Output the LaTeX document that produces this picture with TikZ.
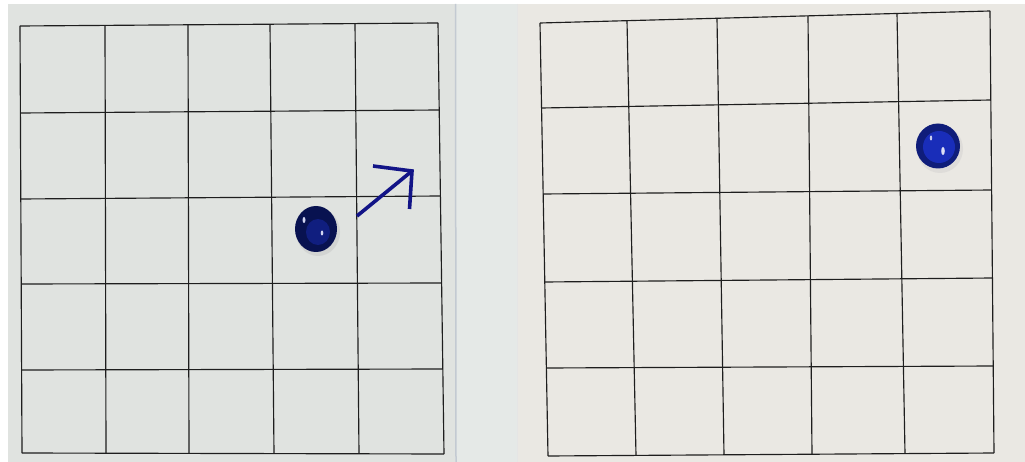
\documentclass[tikz,border=0pt]{standalone}
\usetikzlibrary{calc}
\definecolor{paperL}{RGB}{224,227,224}
\definecolor{paperM}{RGB}{229,233,231}
\definecolor{paperR}{RGB}{234,232,227}
\definecolor{seam}{RGB}{195,202,210}
\definecolor{ink}{RGB}{30,30,30}
\definecolor{navy}{RGB}{18,20,135}
\definecolor{marbleA}{RGB}{8,18,80}
\definecolor{marbleB}{RGB}{25,45,185}
\tikzset{
  gridline/.style={draw=ink, line width=1.15pt},
  arrowline/.style={draw=navy, line width=3.6pt, line cap=butt},
}
\begin{document}
\begin{tikzpicture}[x=1pt,y=-1pt]
\useasboundingbox (0,0) rectangle (1025,462);
\fill[white] (0,0) rectangle (1025,462);
% papers
\fill[paperL] (8,4) rectangle (455,462);
\fill[paperM] (455,4) rectangle (517,462);
\fill[paperR] (517,4) rectangle (1025,462);
\draw[seam, line width=1.5pt] (455.5,4) -- (456,462);
\draw[black!10, line width=0.8pt] (517,4) -- (517,462);
% left grid corners
\coordinate (LTL) at (20,26);
\coordinate (LTR) at (438,23);
\coordinate (LBL) at (22,453);
\coordinate (LBR) at (444,454);
% right grid corners
\coordinate (RTL) at (540,23);
\coordinate (RTR) at (990,11);
\coordinate (RBL) at (548,456);
\coordinate (RBR) at (994,453);
% left grid lines
\foreach \t/\b in {20/22,105/106,188/189,270/274,355/359,438/444}
  \draw[gridline] (\t,{26+(23-26)*(\t-20)/418}) -- (\b,{453+(454-453)*(\b-22)/422});
\foreach \l/\r in {26/23,113/110,199/196,284/283,370/369,453/454}
  \draw[gridline] ({20+2*(\l-26)/427},\l) -- ({438+6*(\r-23)/431},\r);
% right grid lines
\foreach \t/\b in {540/548,627/636,717/724,808/812,897/905,990/994}
  \draw[gridline] (\t,{23+(11-23)*(\t-540)/450}) -- (\b,{456+(453-456)*(\b-548)/446});
\foreach \l/\r in {23/11,108/100,194/190,282/278,368/366,456/453}
  \draw[gridline] ({540+8*(\l-23)/433},\l) -- ({990+4*(\r-11)/442},\r);
% left marble
\fill[black!25, opacity=0.4] (318,232) ellipse [x radius=22, y radius=24];
\fill[marbleA] (316,229) ellipse [x radius=21, y radius=23];
\fill[marbleB!45!marbleA] (318,232) ellipse [x radius=12, y radius=13];
\fill[white!80!marbleB] (304,220) ellipse [x radius=1.5, y radius=3];
\fill[white!80!marbleB] (322,233) ellipse [x radius=1.3, y radius=2.5];
% right marble
\fill[black!20, opacity=0.4] (940,149) ellipse [x radius=23, y radius=24];
\fill[marbleA!60!marbleB] (938,146) ellipse [x radius=22, y radius=22.5];
\fill[marbleB] (939,147) ellipse [x radius=16, y radius=16];
\fill[white!75!marbleB] (931,138) ellipse [x radius=1.2, y radius=2.5];
\fill[white!85!marbleB] (943,151) ellipse [x radius=1.8, y radius=4];
% arrow
\coordinate (A0) at (357,216);
\coordinate (A1) at (412,171);
\coordinate (H1) at (373,166);
\coordinate (H2) at (409.5,209);
\draw[arrowline] (A0) -- (A1);
\draw[arrowline, line join=miter] (H1) -- (A1) -- (H2);
\end{tikzpicture}
\end{document}
